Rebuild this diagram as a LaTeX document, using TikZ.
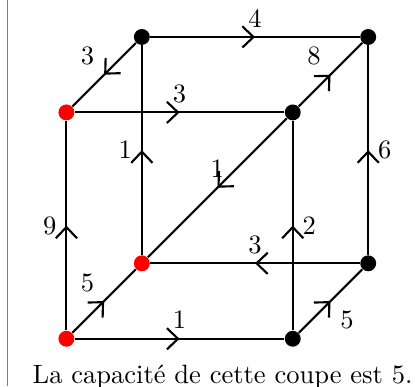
\documentclass[tikz,border=0pt]{standalone}
\usetikzlibrary{decorations.markings,arrows.meta}
\begin{document}
\begin{tikzpicture}[x=1cm,y=1cm,
  dot/.style={circle,fill=black,inner sep=0pt,minimum size=6pt},
  cut/.style={dot,fill=red},
  flow/.style={thick,postaction={decorate},
    decoration={markings,mark=at position 0.5 with {\arrow{Straight Barb[length=4.2pt,width=8pt]}}}}]
  \useasboundingbox (-0.88,-0.63) rectangle (4.62,4.49);
  \draw[gray,line width=0.6pt] (-0.78,-0.63) -- (-0.78,4.49);
  % vertices
  \node[cut] (fbl) at (0,0) {};
  \node[dot] (fbr) at (3,0) {};
  \node[cut] (bbl) at (1,1) {};
  \node[dot] (bbr) at (4,1) {};
  \node[cut] (ftl) at (0,3) {};
  \node[dot] (ftr) at (3,3) {};
  \node[dot] (btl) at (1,4) {};
  \node[dot] (btr) at (4,4) {};
  % edges
  \draw[flow] (fbl) -- (fbr) node[midway,above] {$1$};
  \draw[flow] (fbl) -- (bbl) node[midway,above left] {$5$};
  \draw[flow] (fbl) -- (ftl) node[midway,left] {$9$};
  \draw[flow] (fbr) -- (bbr) node[midway,below right] {$5$};
  \draw[flow] (fbr) -- (ftr) node[midway,right] {$2$};
  \draw[flow] (bbr) -- (bbl) node[midway,above] {$3$};
  \draw[flow] (bbr) -- (btr) node[midway,right] {$6$};
  \draw[flow] (bbl) -- (btl) node[midway,left] {$1$};
  \draw[flow] (ftr) -- (bbl) node[midway,above] {$1$};
  \draw[flow] (ftl) -- (ftr) node[midway,above] {$3$};
  \draw[flow] (ftr) -- (btr) node[midway,above left] {$8$};
  \draw[flow] (btl) -- (ftl) node[midway,above left] {$3$};
  \draw[flow] (btl) -- (btr) node[midway,above] {$4$};
  \node[anchor=base] (caption) at (2.07,-0.59) {La capacité de cette coupe est 5.};
\end{tikzpicture}
\end{document}
